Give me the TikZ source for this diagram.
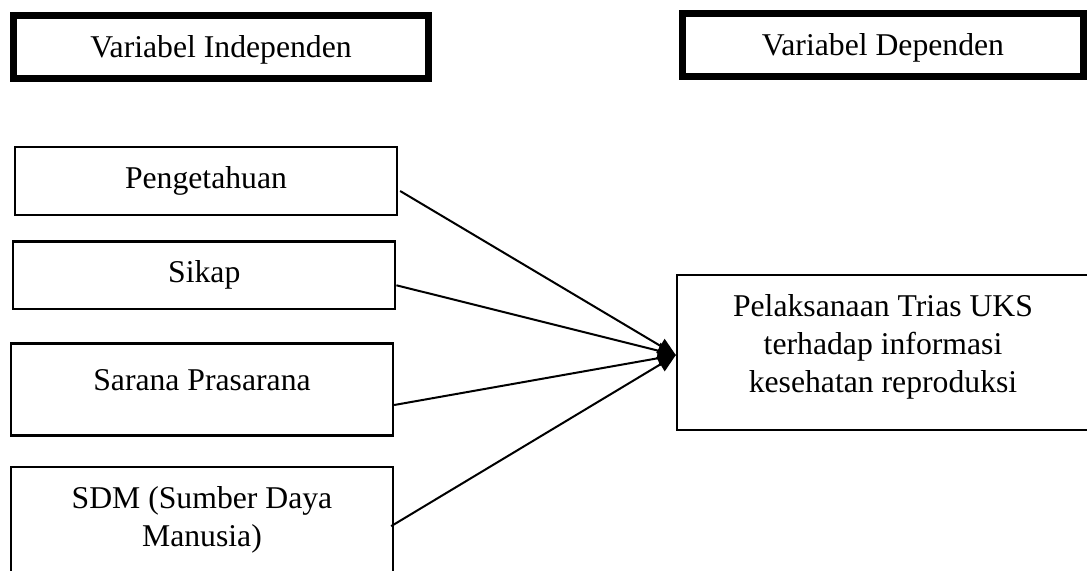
\documentclass[tikz,border=0pt]{standalone}
\usepackage{fontspec}
\setmainfont{Liberation Serif}
\usetikzlibrary{arrows.meta}
\tikzset{
	kotak/.style={draw,line width=1.15pt,minimum width=191pt,inner sep=0pt},
	judul/.style={draw,line width=3.5pt,minimum height=31.5pt,text height=10.9pt,text depth=0pt,inner sep=0pt}
}
\begin{document}
\begin{tikzpicture}[x=0.5pt,y=-0.5pt,>={Triangle[length=9pt,width=8pt]},every node/.style={font=\fontsize{15.85}{19}\selectfont}]
	\useasboundingbox (0,0) rectangle (1087,570);
	\node[judul,minimum width=207.5pt] (indep) at (221,47) {Variabel Independen};
	\node[judul,minimum width=200.5pt] (dep) at (883,45) {Variabel Dependen};
	\node[kotak,minimum height=34pt] (tahu) at (206,181) {Pengetahuan};
	\node[kotak,minimum height=33.75pt] (sikap) at (204.25,275.25) {Sikap};
	\node[kotak,minimum height=46pt,text height=10.5pt,text depth=10pt] (sarana) at (202,389.5) {Sarana Prasarana};
	\node[kotak,anchor=north,align=center,inner ysep=9.75pt,text height=30pt,text depth=10pt] (sdm) at (202,465.5) {SDM (Sumber Daya\\Manusia)};
	\node[kotak,minimum width=206pt,minimum height=77.65pt,align=center,text height=43.15pt,text depth=3.5pt] (uks) at (883,352.65) {Pelaksanaan Trias UKS\\terhadap informasi\\kesehatan reproduksi};
	\draw[->,line width=1pt] ([shift={(1pt,-5pt)}]tahu.east) -- ([yshift=-1.2pt]uks.west);
	\draw[->,line width=1pt] ([yshift=-5pt]sikap.east) -- ([yshift=-1.2pt]uks.west);
	\draw[->,line width=1pt] ([yshift=-7.75pt]sarana.east) -- ([yshift=-1.2pt]uks.west);
	\draw[->,line width=1pt] ([xshift=-1.5pt]sdm.east) -- ([yshift=-1.2pt]uks.west);
\end{tikzpicture}
\end{document}
